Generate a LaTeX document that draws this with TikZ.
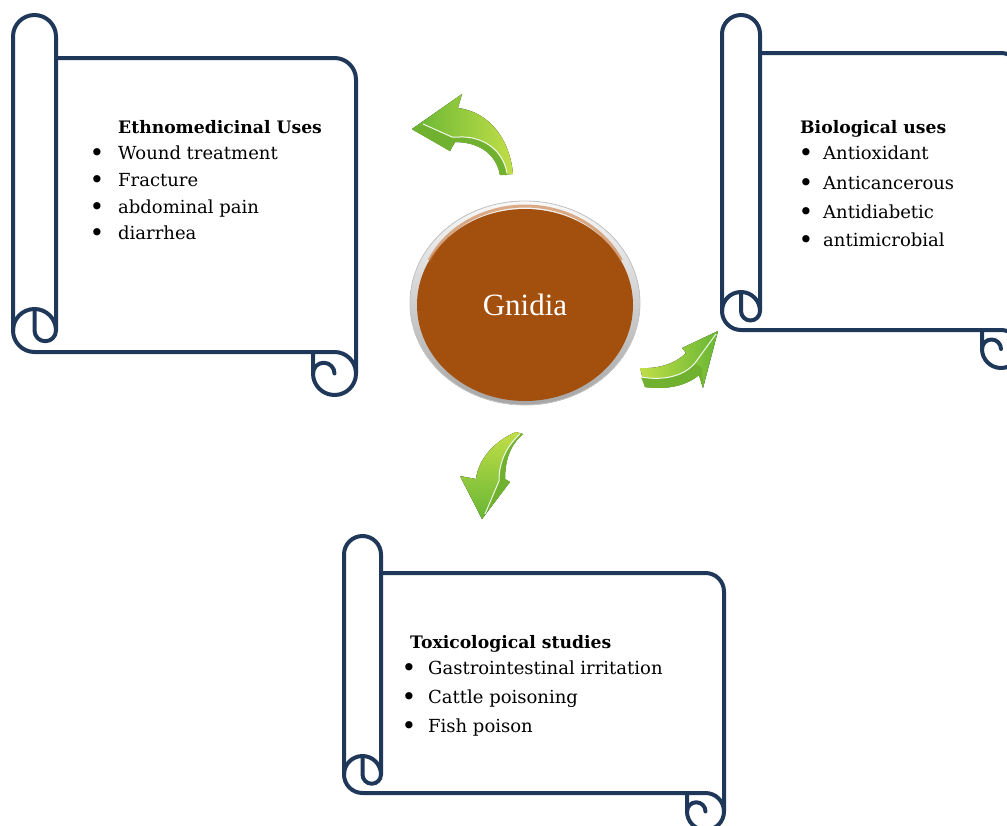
\documentclass[tikz,border=0pt]{standalone}
\usepackage{fontspec}
\setmainfont{DejaVu Serif}
\newfontfamily\timesfont{Liberation Serif}
\usetikzlibrary{shapes.geometric}
\definecolor{navy}{RGB}{31,56,90}
\definecolor{gbrown}{RGB}{163,79,14}
\definecolor{agreen}{RGB}{104,182,52}
\definecolor{ayellow}{RGB}{192,222,72}
\definecolor{adark}{RGB}{112,178,48}
\newcommand{\scrollshape}[5]{%
  \pgfmathsetmacro{\scL}{#1}%
  \pgfmathsetmacro{\scT}{#2}%
  \pgfmathsetmacro{\scR}{#3}%
  \pgfmathsetmacro{\scB}{#4}%
  \pgfmathsetmacro{\scC}{#5}%
  \pgfmathsetmacro{\scH}{#5/2}%
  \pgfmathsetmacro{\scQ}{#5/4}%
  \draw[scl] ({\scL},{\scB-\scH}) -- ({\scL},{\scT+\scH})
     arc[start angle=180,end angle=0,radius=\scH pt] -- ({\scL+\scC},{\scB-\scH});
  \draw[scl] ({\scL+\scC},{\scT+\scC}) -- ({\scR-\scH},{\scT+\scC})
     arc[start angle=90,end angle=0,radius=\scH pt] -- ({\scR},{\scB+\scH})
     arc[start angle=0,end angle=-180,radius=\scH pt] -- ({\scR-\scC},{\scB});
  \draw[scl] ({\scL},{\scB-\scH}) arc[start angle=180,end angle=270,radius=\scH pt]
     -- ({\scR-\scH},{\scB}) arc[start angle=90,end angle=0,radius=\scH pt];
  \draw[scl] ({\scL+\scC},{\scB-\scH}) arc[start angle=0,end angle=180,radius=\scH pt];
  \draw[scl] ({\scL+\scH},{\scB-\scC}) -- ({\scL+\scH},{\scB-\scH})
     arc[start angle=180,end angle=360,radius=\scQ pt];
  \draw[scl] ({\scR-\scH},{\scB+\scH}) arc[start angle=0,end angle=180,radius=\scQ pt];
}
\tikzset{
  scl/.style={draw=navy, line width=4pt, line cap=round, line join=round},
  itm/.style={anchor=base west, inner sep=0pt, font=\fontsize{18}{22}\selectfont},
  bul/.style={anchor=base, inner sep=0pt, font=\fontsize{25}{28}\selectfont},
  hd/.style={anchor=base west, inner sep=0pt, font=\fontsize{17.2}{22}\selectfont\bfseries},
  hilite/.style={draw=white, line width=1pt, opacity=0.9},
}
\begin{document}
\begin{tikzpicture}[x=1pt,y=-1pt]
\useasboundingbox (0,0) rectangle (1007,825);

% scrolls
\scrollshape{13}{15}{356}{352}{43}
\scrollshape{722}{15}{1020}{330}{38}
\scrollshape{344}{536}{724}{793}{37}

% central ellipse
\fill[top color=gray!5, bottom color=gray!70, draw=gray!45, line width=0.8pt]
  (525,303) ellipse [x radius=115pt, y radius=102pt];
\node[ellipse, fill=gbrown, minimum width=216pt, minimum height=192pt, inner sep=0pt,
      text=white, font=\timesfont\fontsize{31}{36}\selectfont] (gnidia) at (525,305) {Gnidia};
\draw[line width=3pt, draw={rgb,255:red,200;green,120;blue,60}, opacity=0.6]
  (gnidia.155) arc[start angle=155, end angle=25, x radius=106pt, y radius=94pt];

% arrow top-left
\fill[left color=agreen, right color=ayellow]
  (513,174) .. controls (510,140) and (490,112) .. (458,108) -- (462,94) -- (412,129)
  -- (450,151) -- (455,142) .. controls (478,142) and (496,153) .. (500,175) -- cycle;
\fill[adark] (413,130) -- (450,151) -- (455,142) .. controls (478,142) and (496,153) .. (500,175)
  -- (507,175) .. controls (503,150) and (483,136) .. (459,137) -- (452,137) -- (423,124) -- cycle;
\draw[hilite] (423,124) -- (452,137) -- (459,137) .. controls (483,136) and (503,150) .. (507,173);

% arrow right
\fill[left color=ayellow, right color=agreen]
  (640,368) .. controls (660,369) and (676,363) .. (686,353) -- (682,348) -- (718,331)
  -- (703,388) -- (699,375) .. controls (686,386) and (666,390) .. (645,387) -- cycle;
\fill[adark] (645,387) .. controls (666,390) and (686,386) .. (699,375) -- (703,388) -- (702,368)
  -- (695,363) .. controls (684,376) and (664,381) .. (641,377) -- cycle;
\draw[hilite] (641,377) .. controls (664,381) and (684,376) .. (695,363) -- (716,334);

% arrow bottom
\fill[top color=ayellow, bottom color=agreen]
  (523,434) .. controls (509,446) and (505,462) .. (505,479) -- (510,482) -- (482,519)
  -- (460,476) -- (476,479) .. controls (478,460) and (494,441) .. (516,432) -- cycle;
\fill[adark] (523,434) .. controls (509,446) and (505,462) .. (505,479) -- (510,482) -- (485,514)
  -- (499,481) .. controls (499,462) and (506,447) .. (520,434) -- cycle;
\draw[hilite] (520,434) .. controls (506,447) and (499,462) .. (499,481) -- (485,514);

% texts scroll 1
\node[hd] (h1) at (118,133) {Ethnomedicinal Uses};
\node[bul] (b1a) at (97,161) {•};
\node[itm] (t1a) at (118,159) {Wound treatment};
\node[bul] (b1b) at (97,188) {•};
\node[itm] (t1b) at (118,186) {Fracture};
\node[bul] (b1c) at (97,215) {•};
\node[itm] (t1c) at (118,213) {abdominal pain};
\node[bul] (b1d) at (97,241) {•};
\node[itm] (t1d) at (118,239) {diarrhea};

% texts scroll 2
\node[hd] (h2) at (800,133) {Biological uses};
\node[bul] (b2a) at (806,161) {•};
\node[itm] (t2a) at (823,159) {Antioxidant};
\node[bul] (b2b) at (806,191) {•};
\node[itm] (t2b) at (823,189) {Anticancerous};
\node[bul] (b2c) at (806,220) {•};
\node[itm] (t2c) at (823,218) {Antidiabetic};
\node[bul] (b2d) at (806,248) {•};
\node[itm] (t2d) at (823,246) {antimicrobial};

% texts scroll 3
\node[hd] (h3) at (410,648) {Toxicological studies};
\node[bul] (b3a) at (409,676) {•};
\node[itm] (t3a) at (428,674) {Gastrointestinal irritation};
\node[bul] (b3b) at (409,705) {•};
\node[itm] (t3b) at (428,703) {Cattle poisoning};
\node[bul] (b3c) at (409,734) {•};
\node[itm] (t3c) at (428,732) {Fish poison};
\end{tikzpicture}
\end{document}
